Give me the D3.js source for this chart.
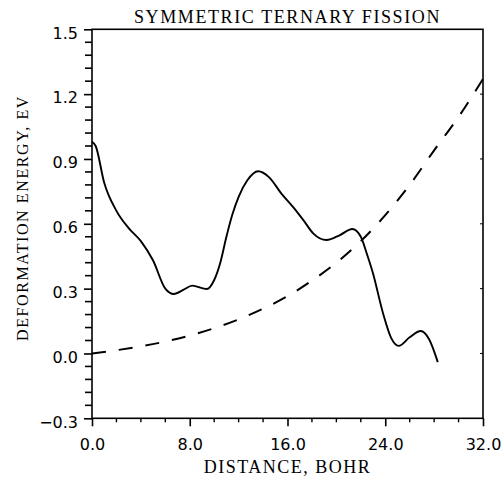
<!DOCTYPE html>
<html><head><meta charset="utf-8">
<script src="https://cdn.jsdelivr.net/npm/d3@7"></script>
<style>body{margin:0;background:#fff}svg{display:block}</style>
</head><body>
<script>
const solidX = [0,0.3,1,2,3,4,5,6,6.7,7.5,8.2,9.4,10,10.5,11,11.5,12,12.7,13.6,14.5,15.5,16.5,17.3,18.1,19.2,20.3,21.3,22.0,22.5,23.0,23.8,24.5,25.1,26.0,26.9,27.6,28.3];
const solidY = [0.98,0.96,0.79,0.66,0.58,0.52,0.43,0.30,0.275,0.295,0.314,0.298,0.34,0.42,0.54,0.645,0.725,0.80,0.843,0.815,0.74,0.675,0.617,0.556,0.525,0.548,0.576,0.54,0.46,0.37,0.19,0.07,0.035,0.075,0.104,0.065,-0.04];
const dashX = [0,2,4,6,8,10,12,14,16,18,20,22,24,26,28,30,32];
const dashY = [0.0,0.015,0.033,0.055,0.083,0.117,0.158,0.207,0.265,0.337,0.42,0.52,0.64,0.78,0.94,1.095,1.27];
const xTicks = [0,8,16,24,32];
const yTicks = [-0.3,0,0.3,0.6,0.9,1.2,1.5];
const title = "SYMMETRIC TERNARY FISSION";
const xTitle = "DISTANCE, BOHR";
const yTitle = "DEFORMATION ENERGY, EV";

const W=503,H=477;
const L=92,R=483,T=29.3,B=418.3;
const svg=d3.select("body").append("svg").attr("width",W).attr("height",H);
const x=d3.scaleLinear().domain([0,32]).range([L,R]);
const y=d3.scaleLinear().domain([-0.3,1.5]).range([B,T]);

// frame
svg.append("rect").attr("x",L).attr("y",T).attr("width",R-L).attr("height",B-T)
  .attr("fill","none").attr("stroke","#000").attr("stroke-width",1.6);

// left axis
const yAxis=d3.axisLeft(y).tickValues(yTicks).tickSize(8).tickPadding(6).tickFormat(d3.format(".1f"));
const ga=svg.append("g").attr("transform",`translate(${L},0)`).call(yAxis);
const yMinor=d3.range(-0.3,1.5001,0.06).filter(v=>!yTicks.some(t=>Math.abs(t-v)<1e-6));
svg.append("g").selectAll("line").data(yMinor).join("line")
  .attr("x1",L-7).attr("x2",L).attr("y1",d=>y(d)).attr("y2",d=>y(d))
  .attr("stroke","#000").attr("stroke-width",1.6);
// bottom axis
const xAxis=d3.axisBottom(x).tickValues(xTicks).tickSize(8).tickPadding(12).tickFormat(d3.format(".1f"));
const gb=svg.append("g").attr("transform",`translate(0,${B})`).call(xAxis);
const xMinor=d3.range(0,32.001,2).filter(v=>!xTicks.includes(v));
svg.append("g").selectAll("line").data(xMinor).join("line")
  .attr("x1",d=>x(d)).attr("x2",d=>x(d)).attr("y1",B).attr("y2",B+4)
  .attr("stroke","#000").attr("stroke-width",1.4);
// right axis small ticks
svg.append("g").selectAll("line").data(yTicks.slice(1,-1)).join("line")
  .attr("x1",R-3).attr("x2",R).attr("y1",d=>y(d)).attr("y2",d=>y(d))
  .attr("stroke","#000").attr("stroke-width",1);

[ga,gb].forEach(g=>{
  g.select(".domain").remove();
  g.selectAll(".tick line").attr("stroke","#000").attr("stroke-width",1.6);
  g.selectAll(".tick text").attr("font-family","'DejaVu Sans',Arial,sans-serif")
   .attr("font-size",16).attr("fill","#000");
});
ga.selectAll(".tick text").attr("dy","0.55em");

// lines
const lineSolid=d3.line().x((d,i)=>x(solidX[i])).y(d=>y(d)).curve(d3.curveMonotoneX);
svg.append("path").attr("d",lineSolid(solidY)).attr("fill","none").attr("stroke","#000").attr("stroke-width",1.9);
const lineDash=d3.line().x((d,i)=>x(dashX[i])).y(d=>y(d)).curve(d3.curveMonotoneX);
svg.append("path").attr("d",lineDash(dashY)).attr("fill","none").attr("stroke","#000").attr("stroke-width",2)
  .attr("stroke-dasharray","14,13");

// titles
const serif="'Liberation Serif','Times New Roman',serif";
svg.append("text").attr("x",(L+R)/2).attr("y",23).attr("text-anchor","middle")
  .attr("font-family",serif).attr("font-size",18).attr("letter-spacing",1.6).text(title);
svg.append("text").attr("x",(L+R)/2).attr("y",473).attr("text-anchor","middle")
  .attr("font-family",serif).attr("font-size",18).attr("letter-spacing",1.5).text(xTitle);
svg.append("text").attr("transform",`translate(28,218) rotate(-90)`).attr("text-anchor","middle")
  .attr("font-family",serif).attr("font-size",16).attr("letter-spacing",1.6).text(yTitle);
</script>
</body></html>
